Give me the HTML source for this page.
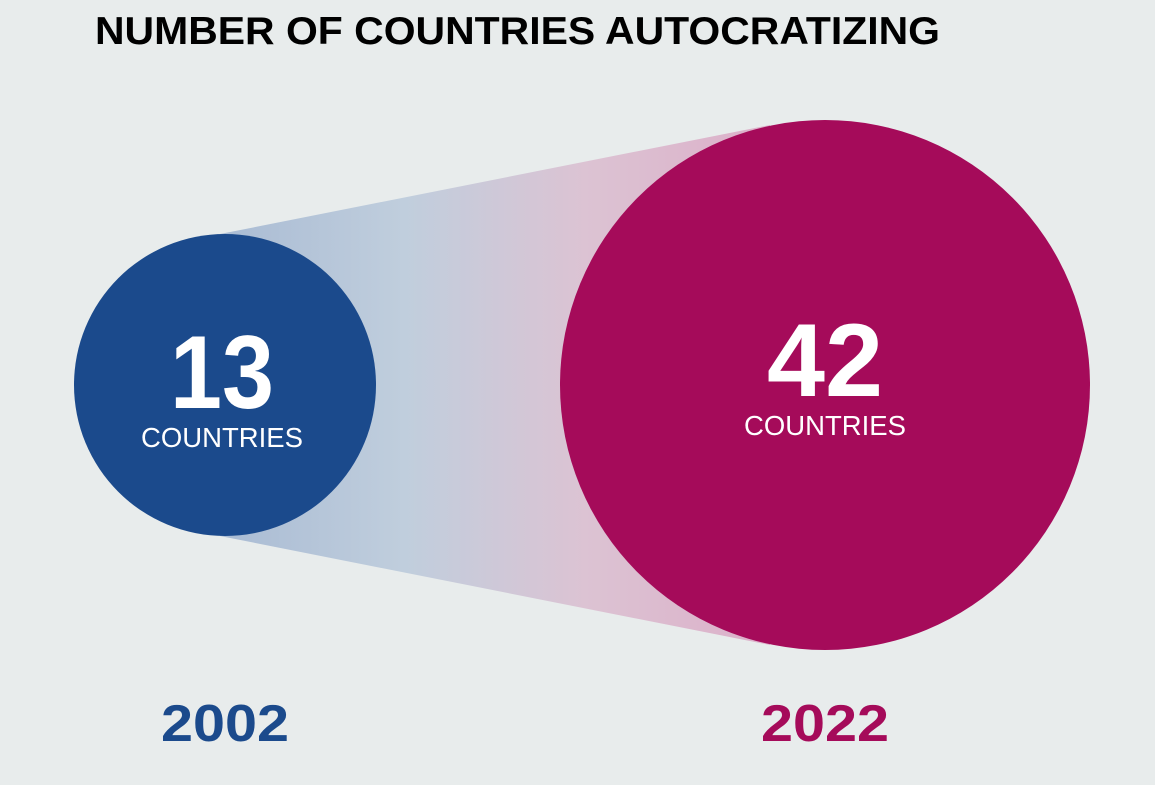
<!DOCTYPE html>
<html><head><meta charset="utf-8"><style>
html,body{margin:0;padding:0;background:#e8ecec;}
svg{display:block;font-family:"Liberation Sans",sans-serif;}
</style></head><body>
<svg width="1155" height="785" viewBox="0 0 1155 785" xmlns="http://www.w3.org/2000/svg">
<defs>
<linearGradient id="g" x1="225" y1="0" x2="825" y2="0" gradientUnits="userSpaceOnUse">
<stop offset="0" stop-color="#aabcd4"/>
<stop offset="0.3" stop-color="#c0cedd"/>
<stop offset="0.6" stop-color="#dcc3d3"/>
<stop offset="1" stop-color="#dcaac6"/>
</linearGradient>
</defs>
<rect width="1155" height="785" fill="#e8ecec"/>
<text x="95" y="44" font-size="39" font-weight="bold" fill="#000" textLength="845" lengthAdjust="spacingAndGlyphs">NUMBER OF COUNTRIES AUTOCRATIZING</text>
<polygon points="220,234 770,125 770,645 220,536" fill="url(#g)"/>
<circle cx="225" cy="385" r="151" fill="#1b4a8c"/>
<circle cx="825" cy="385" r="265" fill="#a50b5a"/>
<text x="222" y="408" font-size="104" font-weight="bold" fill="#fff" text-anchor="middle" textLength="104" lengthAdjust="spacingAndGlyphs">13</text>
<text x="222" y="447" font-size="28" fill="#fff" text-anchor="middle" textLength="162" lengthAdjust="spacingAndGlyphs">COUNTRIES</text>
<text x="825" y="396" font-size="104" font-weight="bold" fill="#fff" text-anchor="middle" textLength="116" lengthAdjust="spacingAndGlyphs">42</text>
<text x="825" y="435" font-size="28" fill="#fff" text-anchor="middle" textLength="162" lengthAdjust="spacingAndGlyphs">COUNTRIES</text>
<text x="225" y="741" font-size="52" font-weight="bold" fill="#1b4a8c" text-anchor="middle" textLength="128" lengthAdjust="spacingAndGlyphs">2002</text>
<text x="825" y="741" font-size="52" font-weight="bold" fill="#a50b5a" text-anchor="middle" textLength="128" lengthAdjust="spacingAndGlyphs">2022</text>
</svg>
</body></html>
